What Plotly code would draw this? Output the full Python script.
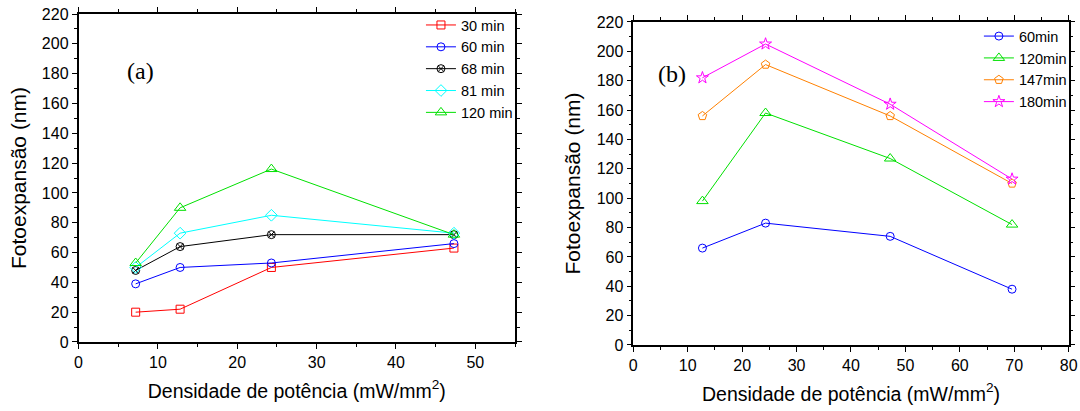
import plotly.graph_objects as go

# Panel (a)
xa = [7.2, 12.8, 24.3, 47.3]
a_30 = [20, 22, 50, 63]
a_60 = [39, 50, 53, 66]
a_68 = [48, 64, 72, 72]
a_81 = [50, 73, 85, 73]
a_120 = [53, 90, 116, 72]

# Panel (b)
xb = [12.7, 24.3, 47.2, 69.6]
b_60 = [66, 83, 74, 38]
b_120 = [98, 158, 127, 82]
b_147 = [156, 191, 156, 110]
b_180 = [182, 205, 164, 113]

series_a = [
    ("30 min", a_30, "#ff0000", "square-open", 8),
    ("60 min", a_60, "#0000ff", "circle-open", 8),
    ("68 min", a_68, "#000000", "circle-x-open", 8),
    ("81 min", a_81, "#00ffff", "diamond-open", 9),
    ("120 min", a_120, "#00e000", "triangle-up-open", 10),
]
series_b = [
    ("60min", b_60, "#0000ff", "circle-open", 8),
    ("120min", b_120, "#00e000", "triangle-up-open", 10),
    ("147min", b_147, "#ff8000", "pentagon-open", 9),
    ("180min", b_180, "#ff00ff", "star-open", 9),
]

fig = go.Figure()
for name, ys, col, sym, sz in series_a:
    fig.add_trace(go.Scatter(x=xa, y=ys, name=name, mode="lines+markers",
                             line=dict(color=col, width=1),
                             marker=dict(symbol=sym, size=sz, color=col, line=dict(width=1, color=col)),
                             xaxis="x", yaxis="y", legend="legend"))
for name, ys, col, sym, sz in series_b:
    fig.add_trace(go.Scatter(x=xb, y=ys, name=name, mode="lines+markers",
                             line=dict(color=col, width=1),
                             marker=dict(symbol=sym, size=sz, color=col, line=dict(width=1, color=col)),
                             xaxis="x2", yaxis="y2", legend="legend2"))

font = "Liberation Sans, Arial, sans-serif"
axcommon = dict(showgrid=False, zeroline=False, showline=True, linecolor="black", linewidth=1.5,
                mirror="ticks", ticks="outside", ticklen=5, tickwidth=1.2, tickcolor="black",
                automargin=False, ticklabeloverflow="allow",
                tickfont=dict(family=font, size=16, color="black"))
xtitle = "Densidade de potência (mW/mm<sup>2</sup>)"
ytitle = "Fotoexpansão (nm)"
minor = dict(ticks="outside", ticklen=3, tickcolor="black")

fig.update_layout(
    width=1080, height=411, margin=dict(l=0, r=0, t=0, b=0),
    paper_bgcolor="white", plot_bgcolor="white",
    font=dict(family=font, color="black"),
    xaxis=dict(domain=[0.0727, 0.4769], range=[0, 55], dtick=10, anchor="y",
               minor=dict(dtick=5, **minor),
               title=dict(text=xtitle, font=dict(size=19.5), standoff=14), **axcommon),
    yaxis=dict(domain=[0.1679, 0.9659], range=[0, 220], dtick=20, anchor="x",
               minor=dict(dtick=10, **minor),
               title=dict(text=ytitle, font=dict(size=21), standoff=10), **axcommon),
    xaxis2=dict(domain=[0.5864, 0.9895], range=[0, 80], dtick=10, anchor="y2",
                minor=dict(dtick=5, **minor),
                title=dict(text=xtitle, font=dict(size=19.5), standoff=14), **axcommon),
    yaxis2=dict(domain=[0.1606, 0.9465], range=[0, 220], dtick=20, anchor="x2",
                minor=dict(dtick=10, **minor),
                title=dict(text=ytitle, font=dict(size=21), standoff=10), **axcommon),
    legend=dict(x=0.4796, y=0.978, xanchor="right", yanchor="top", bgcolor="rgba(0,0,0,0)",
                font=dict(size=14.5), tracegroupgap=0, itemwidth=30),
    legend2=dict(x=0.9925, y=0.951, xanchor="right", yanchor="top", bgcolor="rgba(0,0,0,0)",
                 font=dict(size=14.5), tracegroupgap=0, itemwidth=30),
    annotations=[
        dict(text="(a)", x=0.1157, y=0.8637, xref="paper", yref="paper", showarrow=False,
             font=dict(family="Liberation Serif, Times New Roman, serif", size=24)),
        dict(text="(b)", x=0.622, y=0.857, xref="paper", yref="paper", showarrow=False,
             font=dict(family="Liberation Serif, Times New Roman, serif", size=24)),
    ],
)

fig.write_html("out.html", config={"displayModeBar": False},
               post_script="document.body.style.margin='0';document.body.style.overflow='hidden';")
